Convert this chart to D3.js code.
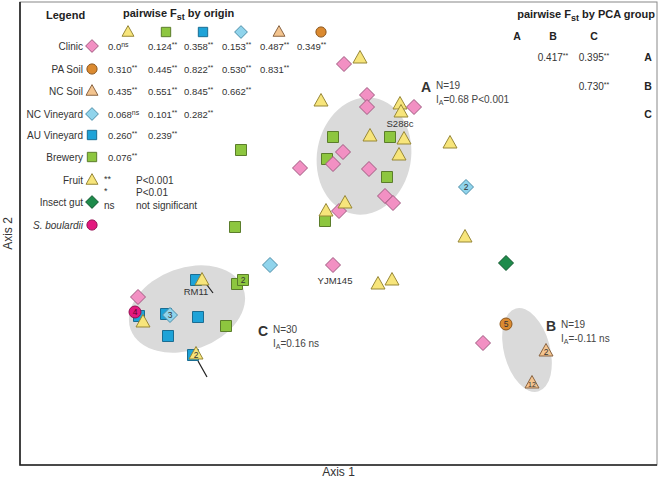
<!DOCTYPE html>
<html><head><meta charset="utf-8">
<script src="https://cdn.jsdelivr.net/npm/d3@7"></script>
<style>body{margin:0;background:#fff}svg{font-family:"Liberation Sans",Arial,sans-serif}</style>
</head><body><svg id="c" width="661" height="481"></svg>
<script>
// ---- data (Axis 1 / Axis 2 scores, arbitrary PCA units) ----
const origins = ["Clinic","PA Soil","NC Soil","NC Vineyard","AU Vineyard","Brewery","Fruit","Insect gut","S. boulardii"];
const clinicPts = [[3.24,4.01],[3.47,3.70],[3.47,3.58],[3.94,3.58],[3.23,3.13],[3.13,3.01],[2.80,2.97],[3.49,2.96],[3.65,2.69],[3.73,2.62],[3.19,2.54],[3.13,2.00],[1.18,1.68],[4.63,1.22]];
const fruitPts = [[3.40,4.07],[3.01,3.64],[3.80,3.61],[3.81,3.53],[3.50,3.29],[3.84,3.26],[3.79,3.10],[4.30,3.22],[3.25,2.62],[3.06,2.54],[4.45,2.28],[3.58,1.81],[3.72,1.85],[1.82,1.85],[1.23,1.43],[1.76,1.11,"2"]];
const breweryPts = [[2.21,3.15],[3.13,3.28],[3.70,3.28],[3.07,3.06],[3.67,2.88],[3.05,2.44],[2.15,2.38],[2.17,1.81],[2.23,1.85,"2"],[2.06,1.39]];
const auVineyardPts = [[1.76,1.85],[1.19,1.49],[1.46,1.51],[1.78,1.48],[1.48,1.29],[1.73,1.10]];
const ncVineyardPts = [[2.50,2.00],[4.46,2.78,"2"],[1.50,1.50,"3"]];
const insectGutPts = [[4.86,2.02]];
const paSoilPts = [[4.86,1.41,"5"]];
const ncSoilPts = [[5.26,1.14,"2"],[5.12,0.82,"12"]];
const boulardiiPts = [[1.15,1.53,"4"]];

// PCA groups: centre x, centre y, radius x, radius y, tilt (deg)
const groupNames = ["A","B","C"];
const groupN = ["N=19","N=19","N=30"];
const groupIA = ["=0.68 P<0.001","=-0.11 ns","=0.16 ns"];
const groupEllipses = [[3.44,3.09,0.47,0.59,10],[5.07,1.15,0.23,0.43,-15],[1.67,1.56,0.60,0.41,-20]];
const groupLabelPos = [[4.01,3.73],[5.26,1.34],[2.38,1.29]];

// strain labels
const strainLabels = ["RM11","S288c","YJM145"];
const strainLabelPos = [[1.76,1.70],[3.80,3.38],[3.15,1.81]];
const pointerLines = [[[1.93,1.72],[1.84,1.84]],[[1.87,0.88],[1.78,1.04]]];

// pairwise Fst by origin (rows = origins, cols = Fruit, Brewery, AU Vineyard, NC Vineyard, NC Soil, PA Soil)
const fstCols = ["Fruit","Brewery","AU Vineyard","NC Vineyard","NC Soil","PA Soil"];
const fstClinic = [["0.0","ns"],["0.124","**"],["0.358","**"],["0.153","**"],["0.487","**"],["0.349","**"]];
const fstPASoil = [["0.310","**"],["0.445","**"],["0.822","**"],["0.530","**"],["0.831","**"]];
const fstNCSoil = [["0.435","**"],["0.551","**"],["0.845","**"],["0.662","**"]];
const fstNCVineyard = [["0.068","ns"],["0.101","**"],["0.282","**"]];
const fstAUVineyard = [["0.260","**"],["0.239","**"]];
const fstBrewery = [["0.076","**"]];
// pairwise Fst by PCA group
const fstGroupAB = "0.417", fstGroupAC = "0.395", fstGroupBC = "0.730";

// ---- styles ----
const style = {
  "Clinic":{shape:"diamond",fill:"#f290c3",stroke:"#a05a80"},
  "PA Soil":{shape:"circle",fill:"#db8a30",stroke:"#8c561c"},
  "NC Soil":{shape:"triangle",fill:"#f3c48f",stroke:"#8a6442"},
  "NC Vineyard":{shape:"diamond",fill:"#90d4ec",stroke:"#4d8ea8"},
  "AU Vineyard":{shape:"square",fill:"#1ea3d8",stroke:"#1a6d92"},
  "Brewery":{shape:"square",fill:"#8dc63f",stroke:"#5b7d2b"},
  "Fruit":{shape:"triangle",fill:"#f7e57b",stroke:"#978737"},
  "Insect gut":{shape:"diamond",fill:"#1e8b4b",stroke:"#0e552b"},
  "S. boulardii":{shape:"circle",fill:"#e3197f",stroke:"#950f52"}
};
const ptsByOrigin = {"Clinic":clinicPts,"PA Soil":paSoilPts,"NC Soil":ncSoilPts,"NC Vineyard":ncVineyardPts,
  "AU Vineyard":auVineyardPts,"Brewery":breweryPts,"Fruit":fruitPts,"Insect gut":insectGutPts,"S. boulardii":boulardiiPts};
const drawOrder = ["AU Vineyard","Brewery","Clinic","Fruit","NC Vineyard","NC Soil","PA Soil","Insect gut","S. boulardii"];

function shapePath(shape,k){
  k = k||1;
  if(shape==="diamond"){const h=7.5*k;return `M0,${-h}L${h},0L0,${h}L${-h},0Z`;}
  if(shape==="square"){const h=5.5*k;return `M${-h},${-h}H${h}V${h}H${-h}Z`;}
  if(shape==="triangle"){const w=7*k,t=7.5*k,b=5*k;return `M0,${-t}L${w},${b}L${-w},${b}Z`;}
  const r=6*k; return `M${r},0A${r},${r} 0 1,1 ${-r},0A${r},${r} 0 1,1 ${r},0Z`;
}

const svg = d3.select("#c");
const W=661,H=481, L=20,R=657,T=2,B=465;
const x = d3.scaleLinear().domain([0,6.37]).range([L,R]);
const y = d3.scaleLinear().domain([0,4.63]).range([B,T]);

// frame
svg.append("rect").attr("x",L).attr("y",T).attr("width",R-L).attr("height",B-T).attr("fill","#fff").attr("stroke","#888").attr("stroke-width",1);
svg.append("path").attr("d",`M${L},${T}V${B}H${R}`).attr("fill","none").attr("stroke","#222").attr("stroke-width",1.6);

// axes (no ticks) titles
svg.append("text").attr("x",(L+R)/2).attr("y",476).attr("text-anchor","middle").attr("font-size",12).attr("fill","#333").text("Axis 1");
svg.append("text").attr("transform",`translate(12,${(T+B)/2}) rotate(-90)`).attr("text-anchor","middle").attr("font-size",12).attr("fill","#333").text("Axis 2");

// ellipses
svg.append("g").selectAll("ellipse").data(groupEllipses).join("ellipse")
  .attr("transform",d=>`translate(${x(d[0])},${y(d[1])}) rotate(${d[4]})`)
  .attr("rx",d=>x(d[2])-x(0)).attr("ry",d=>y(0)-y(d[3]))
  .attr("fill","#dadada");

// pointer lines
svg.append("g").selectAll("line").data(pointerLines).join("line")
  .attr("x1",d=>x(d[0][0])).attr("y1",d=>y(d[0][1])).attr("x2",d=>x(d[1][0])).attr("y2",d=>y(d[1][1]))
  .attr("stroke","#222").attr("stroke-width",1.2);

// points
const gp = svg.append("g");
drawOrder.forEach(o=>{
  const st = style[o];
  const g = gp.append("g");
  g.selectAll("path").data(ptsByOrigin[o]).join("path")
    .attr("transform",d=>`translate(${x(d[0])},${y(d[1])})`)
    .attr("d",shapePath(st.shape)).attr("fill",st.fill).attr("stroke",st.stroke).attr("stroke-width",1);
  g.selectAll("text").data(ptsByOrigin[o].filter(d=>d[2])).join("text")
    .attr("x",d=>x(d[0])).attr("y",d=>y(d[1])+(st.shape==="triangle"?4:3))
    .attr("text-anchor","middle").attr("font-size",d=>d[2].length>1?7:8.5)
    .attr("fill",o==="S. boulardii"?"#5a0630":"#333").text(d=>d[2]);
});

// strain labels
svg.append("g").selectAll("text").data(strainLabels).join("text")
  .attr("x",(d,i)=>x(strainLabelPos[i][0])).attr("y",(d,i)=>y(strainLabelPos[i][1]))
  .attr("text-anchor","middle").attr("font-size",9.5).attr("fill","#333").text(d=>d);

// group annotations
const ga = svg.append("g").selectAll("g").data(groupNames).join("g")
  .attr("transform",(d,i)=>`translate(${x(groupLabelPos[i][0])},${y(groupLabelPos[i][1])})`);
ga.append("text").attr("font-size",14).attr("font-weight","bold").attr("fill","#333").text(d=>d);
ga.append("text").attr("x",15).attr("y",-3).attr("font-size",10).attr("fill","#444").text((d,i)=>groupN[i]);
const ia = ga.append("text").attr("x",15).attr("y",11).attr("font-size",10).attr("fill","#444");
ia.append("tspan").text("I");
ia.append("tspan").attr("font-size",7).attr("dy",2).text("A");
ia.append("tspan").attr("dy",-2).text((d,i)=>groupIA[i]);

// ---- legend / Fst by origin ----
const lg = svg.append("g");
lg.append("text").attr("x",46).attr("y",19).attr("font-size",11).attr("font-weight","bold").attr("fill","#222").text("Legend");
function fstTitle(sel,xp,yp,rest,anchor){
  const t = sel.append("text").attr("x",xp).attr("y",yp).attr("font-size",11).attr("font-weight","bold").attr("fill","#222").attr("text-anchor",anchor||"start");
  t.append("tspan").text("pairwise F");
  t.append("tspan").attr("dy",3).attr("font-size",9).text("st");
  t.append("tspan").attr("dy",-3).text(rest);
}
fstTitle(lg,123,17," by origin");
const colX = [108,148,184,222,260,297];
const colSymX = [128,166,203,241,279,321];
lg.selectAll("path.hdr").data(fstCols).join("path").attr("class","hdr")
  .attr("transform",(d,i)=>`translate(${colSymX[i]},32)`)
  .attr("d",d=>shapePath(style[d].shape,0.85)).attr("fill",d=>style[d].fill).attr("stroke",d=>style[d].stroke);

const rowY = [46,69,91,114,135,157,180,202,225];
const fstRows = [fstClinic,fstPASoil,fstNCSoil,fstNCVineyard,fstAUVineyard,fstBrewery];
const rows = lg.selectAll("g.row").data(origins).join("g").attr("class","row")
  .attr("transform",(d,i)=>`translate(0,${rowY[i]})`);
rows.append("text").attr("x",83).attr("y",4).attr("text-anchor","end").attr("font-size",10).attr("fill","#333")
  .attr("font-style",d=>d==="S. boulardii"?"italic":"normal").text(d=>d);
rows.append("path").attr("transform","translate(92,0)")
  .attr("d",d=>shapePath(style[d].shape,0.85)).attr("fill",d=>style[d].fill).attr("stroke",d=>style[d].stroke);
rows.each(function(d,i){
  if(i>=fstRows.length) return;
  const g = d3.select(this);
  const t = g.selectAll("text.v").data(fstRows[i]).join("text").attr("class","v")
    .attr("x",(v,j)=>colX[j]).attr("y",4).attr("font-size",9.5).attr("fill","#333");
  t.append("tspan").text(v=>v[0]);
  t.append("tspan").attr("dy",-3).attr("font-size",7).text(v=>v[1]);
});
// significance key
const sigMarks = ["**","*","ns"], sigText = ["P<0.001","P<0.01","not significant"], sigY = [184,196,209];
lg.selectAll("text.sm").data(sigMarks).join("text").attr("class","sm")
  .attr("x",104).attr("y",(d,i)=>sigY[i]-(i<2?2:0)).attr("font-size",d=>d==="ns"?10:9).attr("fill","#333").text(d=>d);
lg.selectAll("text.st").data(sigText).join("text").attr("class","st")
  .attr("x",136).attr("y",(d,i)=>sigY[i]).attr("font-size",10).attr("fill","#333").text(d=>d);

// ---- Fst by PCA group ----
const pg = svg.append("g");
fstTitle(pg,655,18," by PCA group","end");
const gColX = [517,553,594];
pg.selectAll("text.gh").data(groupNames).join("text").attr("class","gh")
  .attr("x",(d,i)=>gColX[i]).attr("y",40).attr("text-anchor","middle").attr("font-size",10.5).attr("font-weight","bold").attr("fill","#222").text(d=>d);
const gRowY = [61,90,118];
pg.selectAll("text.gr").data(groupNames).join("text").attr("class","gr")
  .attr("x",648).attr("y",(d,i)=>gRowY[i]).attr("text-anchor","middle").attr("font-size",10.5).attr("font-weight","bold").attr("fill","#222").text(d=>d);
const gVals = [[fstGroupAB,gColX[1],gRowY[0]],[fstGroupAC,gColX[2],gRowY[0]],[fstGroupBC,gColX[2],gRowY[1]]];
const gv = pg.selectAll("text.gv").data(gVals).join("text").attr("class","gv")
  .attr("x",d=>d[1]).attr("y",d=>d[2]).attr("text-anchor","middle").attr("font-size",10).attr("fill","#333");
gv.append("tspan").text(d=>d[0]);
gv.append("tspan").attr("dy",-3).attr("font-size",7).text("**");
</script></body></html>
